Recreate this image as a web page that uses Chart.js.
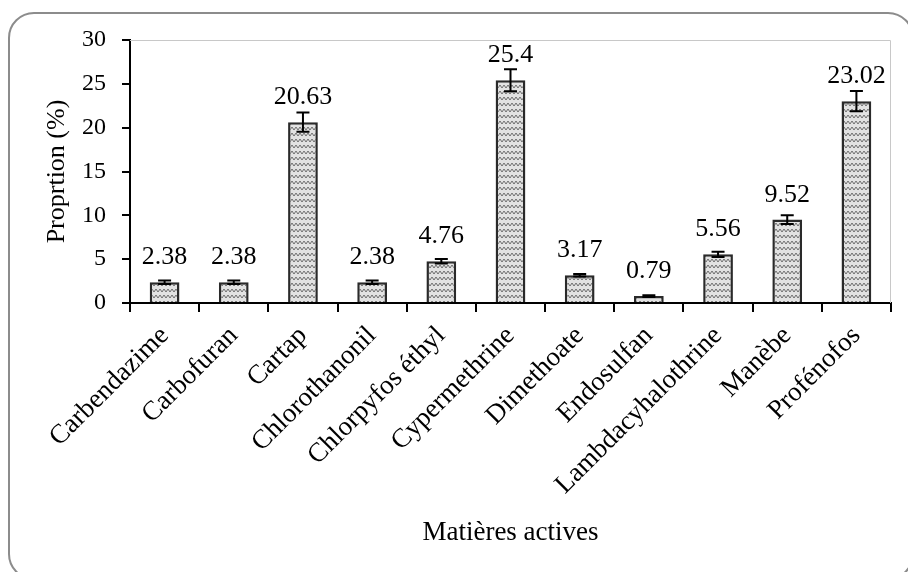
<!DOCTYPE html>
<html>
<head>
<meta charset="utf-8">
<script src="https://cdn.jsdelivr.net/npm/chart.js@4/dist/chart.umd.min.js"></script>
<style>
  html, body { margin: 0; padding: 0; background: #fff; overflow: hidden; }
  #wrap { position: relative; width: 908px; height: 572px; overflow: hidden; }
  #frame { position: absolute; left: 8px; top: 12px; width: 906px; height: 568px;
           border: 2px solid #8c8c8c; border-radius: 26px; box-sizing: border-box; }
  #chart { position: absolute; left: 0; top: 0; }
</style>
</head>
<body>
<div id="wrap">
  <div id="frame"></div>
  <canvas id="chart" width="908" height="572"></canvas>
</div>
<script>
const categories = ["Carbendazime", "Carbofuran", "Cartap", "Chlorothanonil", "Chlorpyfos éthyl",
  "Cypermethrine", "Dimethoate", "Endosulfan", "Lambdacyhalothrine", "Manèbe", "Profénofos"];
const proportions = [2.38, 2.38, 20.63, 2.38, 4.76, 25.4, 3.17, 0.79, 5.56, 9.52, 23.02];
const errors = [0.2, 0.2, 1.1, 0.2, 0.25, 1.25, 0.15, 0.1, 0.3, 0.5, 1.15];
const yTicks = [0, 5, 10, 15, 20, 25, 30];

const serif = "'Liberation Serif', 'Times New Roman', serif";

// zigzag fill like the spreadsheet pattern
function makePattern() {
  const c = document.createElement('canvas');
  c.width = 8; c.height = 6;
  const g = c.getContext('2d');
  g.fillStyle = '#e2e2e2';
  g.fillRect(0, 0, 8, 6);
  g.strokeStyle = '#6e6e6e';
  g.lineWidth = 1;
  g.beginPath();
  g.moveTo(0, 1); g.lineTo(2, 4); g.lineTo(4, 1); g.lineTo(6, 4); g.lineTo(8, 1);
  g.stroke();
  return document.getElementById('chart').getContext('2d').createPattern(c, 'repeat');
}

const extras = {
  id: 'extras',
  beforeDatasetsDraw(chart) {
    const a = chart.chartArea, ctx = chart.ctx;
    ctx.save();
    ctx.strokeStyle = '#c8c8c8';
    ctx.lineWidth = 1;
    ctx.beginPath();
    ctx.moveTo(a.left, a.top + 0.5);
    ctx.lineTo(a.right - 0.5, a.top + 0.5);
    ctx.lineTo(a.right - 0.5, a.bottom);
    ctx.stroke();
    ctx.restore();
  },
  afterDatasetsDraw(chart) {
    const ctx = chart.ctx, y = chart.scales.y;
    const meta = chart.getDatasetMeta(0);
    ctx.save();
    ctx.strokeStyle = '#000';
    ctx.lineWidth = 2;
    meta.data.forEach((bar, i) => {
      const v = proportions[i], e = errors[i];
      const yt = y.getPixelForValue(v + e), yb = y.getPixelForValue(v - e);
      ctx.beginPath();
      ctx.moveTo(bar.x, yt); ctx.lineTo(bar.x, yb);
      ctx.moveTo(bar.x - 6.5, yt); ctx.lineTo(bar.x + 6.5, yt);
      ctx.moveTo(bar.x - 6.5, yb); ctx.lineTo(bar.x + 6.5, yb);
      ctx.stroke();
    });
    ctx.fillStyle = '#000';
    ctx.font = '26px ' + serif;
    ctx.textAlign = 'center';
    ctx.textBaseline = 'alphabetic';
    meta.data.forEach((bar, i) => {
      ctx.fillText(String(proportions[i]), bar.x, bar.y - 18);
    });
    ctx.restore();
  }
};

new Chart(document.getElementById('chart'), {
  type: 'bar',
  data: {
    labels: categories,
    datasets: [{
      data: proportions,
      backgroundColor: makePattern(),
      borderColor: '#2a2a2a',
      borderWidth: 2.5,
      barPercentage: 0.43,
      categoryPercentage: 1
    }]
  },
  options: {
    responsive: false,
    animation: false,
    layout: { padding: { left: 30, right: 17, top: 40, bottom: 19 } },
    plugins: {
      legend: { display: false },
      tooltip: { enabled: false }
    },
    scales: {
      x: {
        afterFit(s) { s.height = 250; },
        grid: { display: true, drawOnChartArea: false, drawTicks: true, tickLength: 9, color: '#000', lineWidth: 2, offset: true },
        border: { display: true, color: '#000', width: 2 },
        ticks: { color: '#000', font: { family: serif, size: 27 }, minRotation: 45, maxRotation: 45, autoSkip: false, padding: 8 },
        title: { display: true, text: 'Matières actives', color: '#000', font: { family: serif, size: 27 }, padding: { top: 4, bottom: 4 } }
      },
      y: {
        min: 0,
        max: 30,
        afterFit(s) { s.width = 100; },
        afterBuildTicks(s) { s.ticks = yTicks.map(v => ({ value: v })); },
        grid: { display: true, drawOnChartArea: false, drawTicks: true, tickLength: 8, color: '#000', lineWidth: 2 },
        border: { display: true, color: '#000', width: 2 },
        ticks: { color: '#000', font: { family: serif, size: 24 }, padding: 16 },
        title: { display: true, text: 'Proprtion (%)', color: '#000', font: { family: serif, size: 26 }, padding: { top: 12, bottom: 4 } }
      }
    }
  },
  plugins: [extras]
});
</script>
</body>
</html>
